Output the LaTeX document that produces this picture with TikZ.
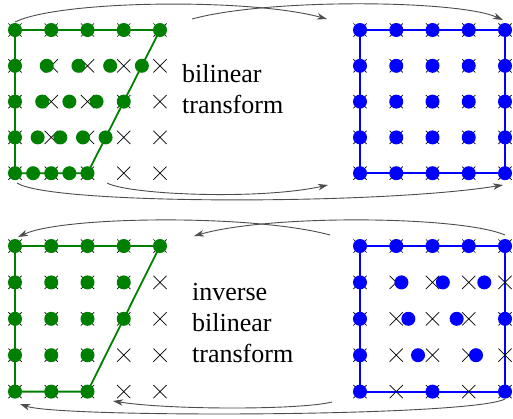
\documentclass[tikz,border=0pt]{standalone}
\usepackage{fontspec}
\setmainfont{Liberation Serif}
\usetikzlibrary{arrows.meta}
\definecolor{gridgreen}{rgb}{0,0.5,0}
\definecolor{gridblue}{rgb}{0,0,1}
\definecolor{arrowgray}{gray}{0.3}
\tikzset{
  xm/.pic={\draw[line width=0.7pt,black] (-6.6pt,-6.6pt)--(6.6pt,6.6pt) (-6.6pt,6.6pt)--(6.6pt,-6.6pt);},
  mapline/.style={line width=1.8pt},
  flow/.style={arrowgray,line width=0.9pt,-{Stealth[length=10pt,width=6.5pt,inset=3pt]}},
  txt/.style={font=\fontsize{26}{31}\selectfont,inner sep=0pt,anchor=base west},
  dotr/.style={radius=7pt},
}
\begin{document}
\begin{tikzpicture}[x=1pt,y=-1pt]
\useasboundingbox (0,0) rectangle (513,418);

% forward map: square grid sampled on the trapezoid
\begin{scope}[shift={(15,30)},x=36.25pt,y=-35.8pt]
  \draw[mapline,gridgreen] (0,0)--(4,0)--(2,4)--(0,4)--cycle;
  \foreach \i in {0,...,4} \foreach \j in {0,...,4} \pic at (\i,\j) {xm};
  \foreach \j in {0,...,4} \foreach \i in {0,...,4}
    \fill[gridgreen] ({\i*(1-\j/8)},\j) circle[dotr];
\end{scope}

\begin{scope}[shift={(360,30)},x=36.25pt,y=-35.8pt]
  \draw[mapline,gridblue] (0,0) rectangle (4,4);
  \foreach \i in {0,...,4} \foreach \j in {0,...,4} \pic at (\i,\j) {xm};
  \foreach \i in {0,...,4} \foreach \j in {0,...,4}
    \fill[gridblue] (\i,\j) circle[dotr];
\end{scope}

% inverse map: grid points inside the trapezoid pulled back to the square
\begin{scope}[shift={(15,246)},x=36.25pt,y=-36.4pt]
  \draw[mapline,gridgreen] (0,0)--(4,0)--(2,4)--(0,4)--cycle;
  \foreach \i in {0,...,4} \foreach \j in {0,...,4} \pic at (\i,\j) {xm};
  \foreach \j/\n in {0/4,1/3,2/3,3/2,4/2} \foreach \i in {0,...,\n}
    \fill[gridgreen] (\i,\j) circle[dotr];
\end{scope}

\begin{scope}[shift={(360,246)},x=36.25pt,y=-36.4pt]
  \draw[mapline,gridblue] (0,0) rectangle (4,4);
  \foreach \i in {0,...,4} \foreach \j in {0,...,4} \pic at (\i,\j) {xm};
  \foreach \j/\n in {0/4,1/3,2/3,3/2,4/2} \foreach \i in {0,...,\n}
    \fill[gridblue] ({\i/(1-\j/8)},\j) circle[dotr];
\end{scope}

% captions
\node[txt] (t1) at (182,82) {bilinear};
\node[txt] (t2) at (182,113) {transform};
\node[txt] (t3) at (192,300) {inverse};
\node[txt] (t4) at (192,331) {bilinear};
\node[txt] (t5) at (192,362) {transform};

% arrow end points
\coordinate (a1s) at (15,22);   \coordinate (a1e) at (327,19);
\coordinate (a2s) at (192,19);  \coordinate (a2e) at (503,20);
\coordinate (a3s) at (17,183);  \coordinate (a3e) at (503,185);
\coordinate (a4s) at (107,183); \coordinate (a4e) at (328,185);
\coordinate (b1s) at (330,235); \coordinate (b1e) at (18,237);
\coordinate (b2s) at (505,235); \coordinate (b2e) at (194,236);
\coordinate (b3s) at (505,399); \coordinate (b3e) at (20,404);
\coordinate (b4s) at (332,402); \coordinate (b4e) at (113,401);

\draw[flow] (a1s) .. controls (60,0) and (250,-2) .. (a1e);
\draw[flow] (a2s) .. controls (269,-2) and (459,0) .. (a2e);
\draw[flow] (a3s) .. controls (50,205) and (380,205) .. (a3e);
\draw[flow] (a4s) .. controls (130,195) and (260,200) .. (a4e);
\draw[flow] (b1s) .. controls (253,214) and (63,216) .. (b1e);
\draw[flow] (b2s) .. controls (461,216) and (271,214) .. (b2e);
\draw[flow] (b3s) .. controls (470,417) and (60,418) .. (b3e);
\draw[flow] (b4s) .. controls (300,410) and (170,410) .. (b4e);
\end{tikzpicture}
\end{document}
